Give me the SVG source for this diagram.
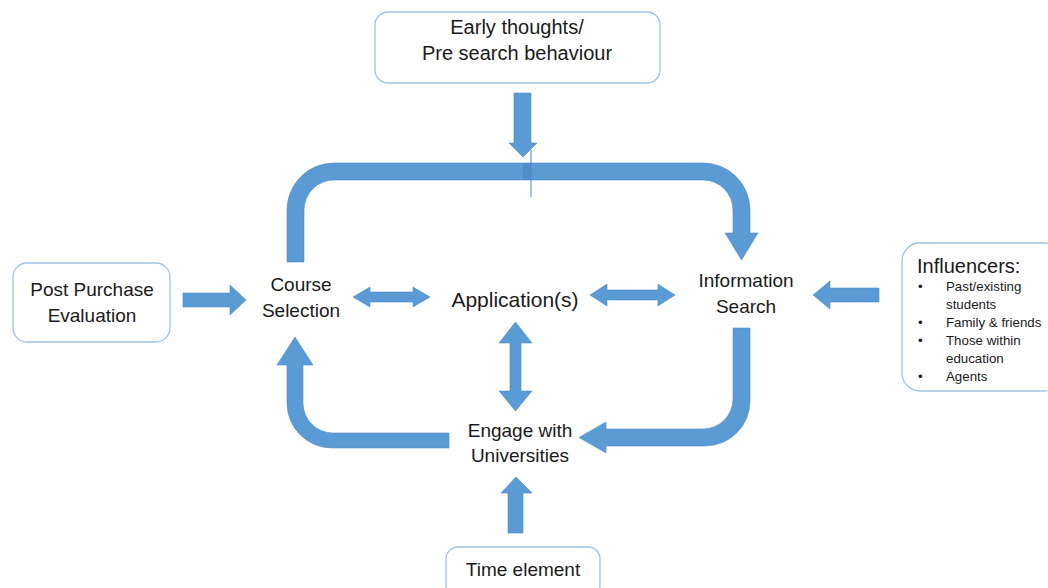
<svg xmlns="http://www.w3.org/2000/svg" width="1048" height="588" viewBox="0 0 1048 588">
<style>
.box{fill:#fff;stroke:#9DC3E6;stroke-width:1.3}
.arr{fill:#5B9BD5;stroke:#4F8CC4;stroke-width:0.6}
.t{font-family:"Liberation Sans",Arial,sans-serif;font-size:19px;fill:#1a1a1a;text-anchor:middle}
.s{font-family:"Liberation Sans",Arial,sans-serif;font-size:13.3px;fill:#1a1a1a}
</style>
<rect width="1048" height="588" fill="#fff"/>
<g id="connectors">
<path class="arr" d="M287,262 L287,210 A47,47 0 0 1 334,163 L703,163 A47,47 0 0 1 750,210 L750,233 L758,233 L741.5,260 L725,233 L733,233 L733,210 A30,30 0 0 0 703,180 L334,180 A30,30 0 0 0 304,210 L304,262 Z"/>
<rect x="523" y="163" width="8" height="17" fill="#4F8ECB"/>
<line x1="531" y1="150" x2="531" y2="197" stroke="#4A84BD" stroke-width="1"/>
<path class="arr" d="M514,93 L531,93 L531,143 L537,143 L523,157 L509,143 L514,143 Z"/>
<path class="arr" d="M183,293 L230,293 L230,285 L246,300 L230,315 L230,307 L183,307 Z"/>
<path class="arr" d="M353,297 L370,287 L370,292 L413,292 L413,287 L430,297 L413,307 L413,302 L370,302 L370,307 Z"/>
<path class="arr" d="M590,295 L607,284 L607,290 L658,290 L658,284 L675,295 L658,306 L658,300 L607,300 L607,306 Z"/>
<path class="arr" d="M879,288 L830,288 L830,281 L813,295 L830,309 L830,302 L879,302 Z"/>
<path class="arr" d="M515.5,322 L532,343 L521,343 L521,391 L532,391 L515.5,411 L499,391 L510,391 L510,343 L499,343 Z"/>
<path class="arr" d="M449,448 L332,448 A45,45 0 0 1 287,403 L287,365 L277,365 L295,337 L313,365 L303,365 L303,403 A30,30 0 0 0 333,433 L449,433 Z"/>
<path class="arr" d="M733,328 L750,328 L750,401 A45,45 0 0 1 705,446 L606,446 L606,453 L579,437.5 L606,422 L606,429 L703,429 A30,30 0 0 0 733,399 Z"/>
<path class="arr" d="M508,533 L523,533 L523,493 L532,493 L516,477 L501,493 L508,493 Z"/>
</g>
<g id="early-thoughts">
<rect class="box" x="375" y="12" width="285" height="71" rx="13"/>
<text class="t" x="517" y="34" style="font-size:20px">Early thoughts/</text>
<text class="t" x="517" y="60" style="font-size:20px">Pre search behaviour</text>
</g>
<g id="post-purchase">
<rect class="box" x="13" y="263" width="157" height="79" rx="14"/>
<text class="t" x="92" y="296">Post Purchase</text>
<text class="t" x="92" y="322">Evaluation</text>
</g>
<g id="course-selection">
<text class="t" x="301" y="291">Course</text>
<text class="t" x="301" y="317">Selection</text>
</g>
<g id="applications">
<text class="t" x="515" y="307" style="font-size:21px">Application(s)</text>
</g>
<g id="information-search">
<text class="t" x="746" y="287">Information</text>
<text class="t" x="746" y="313">Search</text>
</g>
<g id="influencers">
<rect class="box" x="902" y="243" width="160" height="148" rx="18"/>
<text class="t" x="917" y="273" style="text-anchor:start;font-size:20px">Influencers:</text>
<text class="s" x="918" y="291">•</text><text class="s" x="946" y="291">Past/existing</text>
<text class="s" x="946" y="309">students</text>
<text class="s" x="918" y="327">•</text><text class="s" x="946" y="327">Family &amp; friends</text>
<text class="s" x="918" y="345">•</text><text class="s" x="946" y="345">Those within</text>
<text class="s" x="946" y="363">education</text>
<text class="s" x="918" y="381">•</text><text class="s" x="946" y="381">Agents</text>
</g>
<g id="engage">
<text class="t" x="520" y="437">Engage with</text>
<text class="t" x="520" y="462">Universities</text>
</g>
<g id="time-element">
<rect class="box" x="446" y="547" width="154" height="50" rx="12"/>
<text class="t" x="523" y="576">Time element</text>
</g>
</svg>
